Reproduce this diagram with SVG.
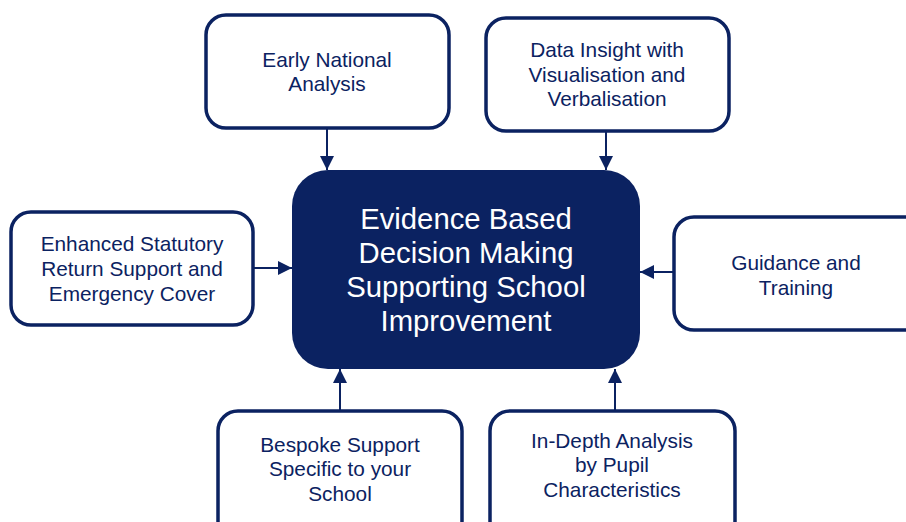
<svg xmlns="http://www.w3.org/2000/svg" width="906" height="522" viewBox="0 0 906 522">
<defs>
<style>
.box{fill:#ffffff;stroke:#0b2261;stroke-width:3.5}
.core{fill:#0b2261;stroke:none}
.t{font-family:"Liberation Sans",Arial,sans-serif;font-size:20.8px;fill:#0b2261;text-anchor:middle}
.ct{font-family:"Liberation Sans",Arial,sans-serif;font-size:29.3px;fill:#ffffff;text-anchor:middle}
.conn{stroke:#0b2261;stroke-width:2;fill:none;marker-end:url(#ah)}
</style>
<marker id="ah" viewBox="0 0 10 10" refX="10" refY="5" markerWidth="14" markerHeight="14" markerUnits="userSpaceOnUse" orient="auto">
<path d="M0,0 L10,5 L0,10 z" fill="#0b2261"/>
</marker>
</defs>
<g id="connectors">
<line class="conn" x1="327" y1="129" x2="327" y2="170"/>
<line class="conn" x1="606" y1="132" x2="606" y2="170"/>
<line class="conn" x1="254" y1="268" x2="292" y2="268"/>
<line class="conn" x1="673" y1="272" x2="640" y2="272"/>
<line class="conn" x1="340" y1="411" x2="340" y2="369"/>
<line class="conn" x1="615" y1="411" x2="615" y2="369"/>
</g>
<g id="center">
<rect class="core" x="292" y="170" width="348" height="199" rx="36" ry="36"/>
<text class="ct" x="466" y="229">Evidence Based</text>
<text class="ct" x="466" y="263">Decision Making</text>
<text class="ct" x="466" y="297">Supporting School</text>
<text class="ct" x="466" y="331">Improvement</text>
</g>
<g id="early-national-analysis">
<rect class="box" x="206" y="15" width="243" height="113" rx="20" ry="20"/>
<text class="t" x="327" y="67">Early National</text>
<text class="t" x="327" y="91">Analysis</text>
</g>
<g id="data-insight">
<rect class="box" x="486" y="18" width="243" height="113" rx="20" ry="20"/>
<text class="t" x="607" y="57">Data Insight with</text>
<text class="t" x="607" y="82">Visualisation and</text>
<text class="t" x="607" y="106">Verbalisation</text>
</g>
<g id="enhanced-statutory">
<rect class="box" x="11" y="212" width="242" height="113" rx="20" ry="20"/>
<text class="t" x="132" y="251">Enhanced Statutory</text>
<text class="t" x="132" y="276">Return Support and</text>
<text class="t" x="132" y="301">Emergency Cover</text>
</g>
<g id="guidance-training">
<rect class="box" x="674" y="217" width="250" height="113" rx="20" ry="20"/>
<text class="t" x="796" y="270">Guidance and</text>
<text class="t" x="796" y="295">Training</text>
</g>
<g id="bespoke-support">
<rect class="box" x="218" y="411" width="244" height="130" rx="20" ry="20"/>
<text class="t" x="340" y="452">Bespoke Support</text>
<text class="t" x="340" y="476">Specific to your</text>
<text class="t" x="340" y="501">School</text>
</g>
<g id="in-depth-analysis">
<rect class="box" x="490" y="411" width="245" height="130" rx="20" ry="20"/>
<text class="t" x="612" y="448">In-Depth Analysis</text>
<text class="t" x="612" y="472">by Pupil</text>
<text class="t" x="612" y="497">Characteristics</text>
</g>
</svg>
